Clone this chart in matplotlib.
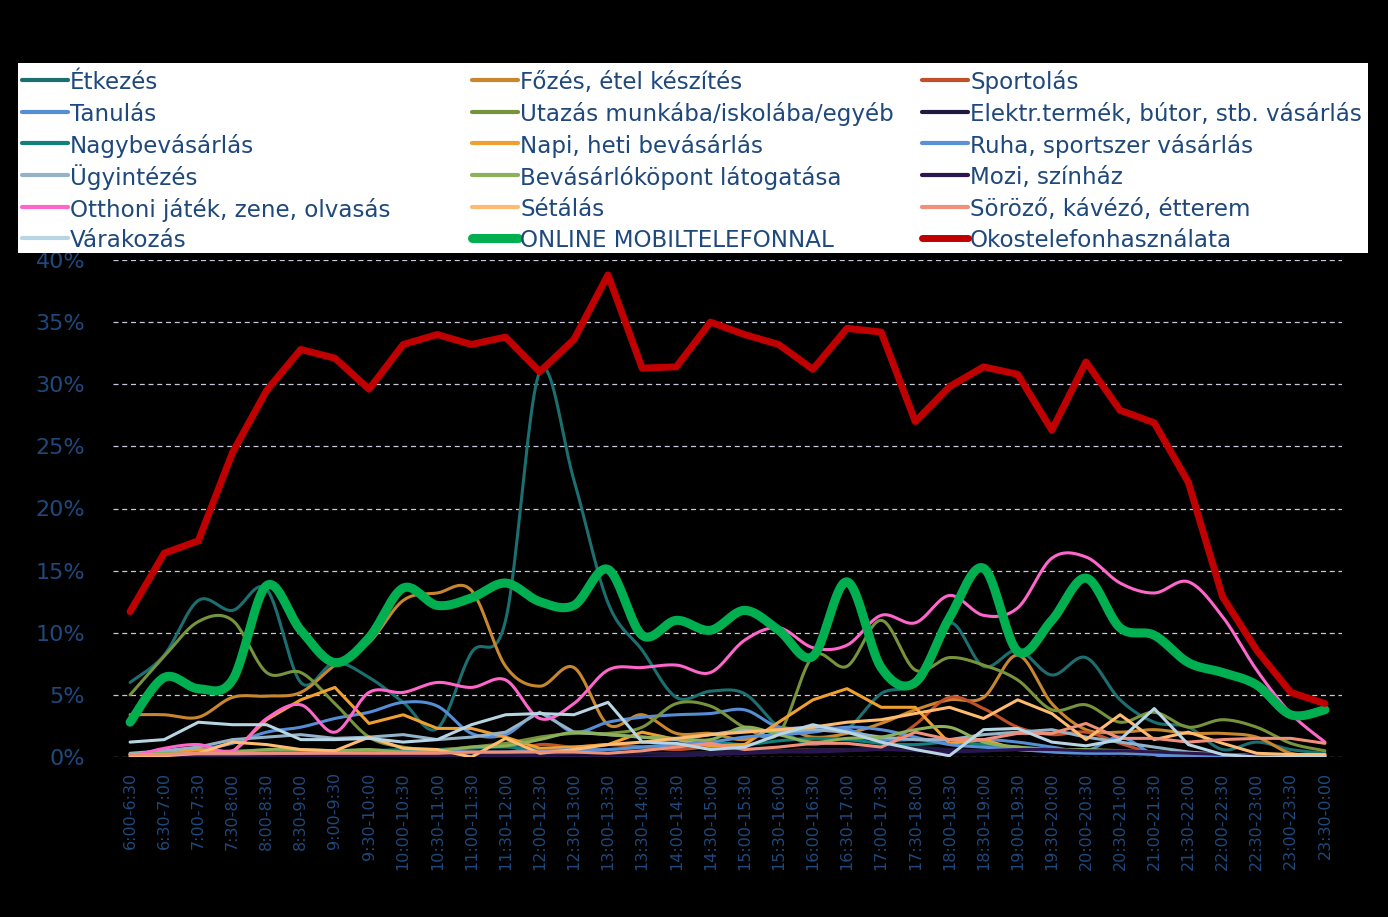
import numpy as np
import matplotlib
matplotlib.use("Agg")
from matplotlib import pyplot as plt
from matplotlib.lines import Line2D
from matplotlib.patches import Rectangle

slots = ["6:00-6:30", "6:30-7:00", "7:00-7:30", "7:30-8:00", "8:00-8:30", "8:30-9:00",
         "9:00-9:30", "9:30-10:00", "10:00-10:30", "10:30-11:00", "11:00-11:30", "11:30-12:00",
         "12:00-12:30", "12:30-13:00", "13:00-13:30", "13:30-14:00", "14:00-14:30", "14:30-15:00",
         "15:00-15:30", "15:30-16:00", "16:00-16:30", "16:30-17:00", "17:00-17:30", "17:30-18:00",
         "18:00-18:30", "18:30-19:00", "19:00-19:30", "19:30-20:00", "20:00-20:30", "20:30-21:00",
         "21:00-21:30", "21:30-22:00", "22:00-22:30", "22:30-23:00", "23:00-23:30", "23:30-0:00"]

# values in percent
etkezes = [6.0, 8.2, 12.6, 11.8, 13.5, 6.0, 7.6, 6.4, 4.4, 2.3, 8.4, 11.0, 31.0, 22.3, 12.4, 8.6, 4.8, 5.3,
           5.1, 2.4, 1.0, 2.2, 5.1, 6.0, 10.8, 7.3, 8.6, 6.6, 8.0, 4.6, 2.8, 2.4, 0.6, 1.2, 0.6, 0.3]
fozes = [3.4, 3.4, 3.2, 4.8, 4.9, 5.2, 7.4, 9.2, 12.6, 13.2, 13.4, 7.3, 5.7, 7.2, 2.6, 3.4, 1.9, 1.9,
         1.4, 2.4, 1.6, 1.9, 2.7, 3.8, 4.6, 4.8, 8.2, 4.3, 2.2, 2.0, 2.2, 1.9, 1.9, 1.6, 0.3, 0.2]
sportolas = [0.2, 0.3, 0.3, 0.2, 0.2, 0.3, 0.4, 0.3, 0.3, 0.3, 0.3, 0.3, 1.0, 0.8, 1.0, 0.8, 0.6, 0.8,
             0.6, 0.5, 0.6, 0.6, 0.8, 2.6, 4.8, 3.9, 2.4, 1.8, 2.0, 1.1, 0.3, 0.2, 0.2, 0.1, 0.1, 0.1]
tanulas = [0.2, 0.3, 0.6, 1.1, 2.0, 2.4, 3.1, 3.6, 4.4, 4.1, 1.9, 1.8, 3.5, 2.0, 2.8, 3.2, 3.4, 3.5,
           3.8, 2.4, 2.4, 2.2, 1.4, 1.4, 1.2, 1.4, 1.2, 0.8, 0.5, 1.6, 0.2, 0.0, 0.0, 0.0, 0.0, 0.0]
utazas = [5.0, 8.1, 10.9, 11.0, 6.8, 6.8, 4.3, 1.6, 0.8, 0.6, 0.8, 1.1, 1.6, 1.9, 1.9, 2.4, 4.3, 4.1,
          2.4, 1.9, 8.1, 7.3, 11.0, 7.0, 8.0, 7.4, 6.2, 3.8, 4.2, 2.8, 3.6, 2.4, 3.0, 2.4, 1.1, 0.5]
elektr = [0.0, 0.0, 0.0, 0.0, 0.0, 0.1, 0.1, 0.1, 0.1, 0.1, 0.2, 0.2, 0.2, 0.3, 0.3, 0.3, 0.3, 0.4,
          0.5, 0.5, 0.6, 0.6, 0.8, 0.8, 0.6, 0.5, 0.6, 0.6, 0.5, 0.5, 0.3, 0.2, 0.1, 0.0, 0.0, 0.0]
nagybev = [0.2, 0.3, 0.4, 0.5, 0.5, 0.4, 0.4, 0.5, 0.6, 0.6, 0.7, 0.8, 0.6, 0.5, 0.6, 0.8, 1.0, 1.2,
           1.0, 1.3, 1.5, 1.4, 1.1, 1.0, 1.2, 1.0, 0.8, 0.6, 0.5, 0.4, 0.3, 0.2, 0.1, 0.1, 0.0, 0.0]
napi = [0.2, 0.3, 0.6, 0.4, 3.0, 4.6, 5.6, 2.7, 3.4, 2.3, 2.3, 1.6, 0.7, 0.8, 1.0, 2.0, 1.4, 0.9,
        1.0, 2.8, 4.6, 5.5, 4.0, 4.0, 1.1, 1.4, 0.6, 0.5, 0.4, 0.4, 0.3, 0.2, 0.2, 0.1, 0.1, 0.1]
ruha = [0.1, 0.1, 0.2, 0.2, 0.3, 0.3, 0.4, 0.4, 0.4, 0.5, 0.4, 0.4, 0.5, 0.6, 0.6, 0.8, 1.0, 1.2,
        1.6, 1.8, 2.0, 2.4, 2.2, 1.6, 1.0, 0.8, 0.6, 0.4, 0.3, 0.3, 0.2, 0.1, 0.1, 0.0, 0.0, 0.0]
ugyintezes = [0.3, 0.5, 0.8, 1.4, 1.6, 1.8, 1.5, 1.6, 1.8, 1.4, 1.6, 2.0, 3.6, 2.0, 1.8, 1.6, 1.4, 1.8,
              2.2, 2.0, 2.2, 2.0, 1.6, 1.4, 1.4, 1.8, 2.0, 2.2, 1.6, 1.2, 0.8, 0.4, 0.2, 0.1, 0.1, 0.1]
bevkozpont = [0.2, 0.3, 0.3, 0.4, 0.6, 0.6, 0.5, 0.6, 0.4, 0.5, 0.8, 0.9, 1.4, 2.0, 1.8, 1.6, 1.5, 1.4,
              2.4, 1.8, 1.2, 1.5, 1.6, 2.2, 2.4, 1.2, 0.8, 0.6, 0.6, 0.5, 0.4, 0.3, 0.2, 0.1, 0.1, 0.1]
mozi = [0.0, 0.0, 0.0, 0.0, 0.0, 0.0, 0.0, 0.0, 0.0, 0.0, 0.0, 0.0, 0.0, 0.0, 0.0, 0.0, 0.1, 0.2,
        0.3, 0.4, 0.4, 0.5, 0.6, 0.5, 0.4, 0.5, 0.6, 0.6, 0.5, 0.5, 0.4, 0.3, 0.2, 0.1, 0.0, 0.0]
otthoni = [0.0, 0.7, 1.0, 0.5, 3.1, 4.2, 2.0, 5.2, 5.2, 6.0, 5.6, 6.2, 3.1, 4.3, 7.0, 7.2, 7.4, 6.8,
           9.4, 10.4, 8.8, 9.0, 11.4, 10.8, 13.0, 11.4, 12.0, 16.0, 16.1, 14.0, 13.2, 14.1, 11.3, 7.0, 3.5, 1.2]
setalas = [0.0, 0.1, 0.3, 1.2, 1.0, 0.6, 0.5, 1.6, 0.7, 0.6, 0.0, 1.5, 0.3, 0.6, 1.0, 1.2, 1.5, 1.8,
           2.0, 2.2, 2.4, 2.8, 3.0, 3.5, 4.0, 3.1, 4.6, 3.5, 1.4, 3.4, 1.4, 2.0, 1.1, 0.3, 0.2, 0.2]
sorozo = [0.2, 0.2, 0.3, 0.3, 0.3, 0.3, 0.3, 0.3, 0.3, 0.3, 0.4, 0.4, 0.4, 0.4, 0.3, 0.5, 0.8, 1.1,
          0.6, 0.8, 1.1, 1.1, 0.8, 2.0, 1.4, 1.4, 1.9, 1.9, 2.7, 1.5, 1.5, 1.2, 1.4, 1.5, 1.5, 1.1]
varakozas = [1.2, 1.4, 2.8, 2.6, 2.6, 1.4, 1.4, 1.5, 1.2, 1.4, 2.6, 3.4, 3.5, 3.4, 4.4, 1.2, 1.1, 0.6,
             0.8, 1.8, 2.6, 2.0, 1.2, 0.6, 0.1, 2.2, 2.3, 1.2, 0.9, 1.4, 3.9, 1.0, 0.2, 0.0, 0.0, 0.0]
online = [2.8, 6.4, 5.5, 6.2, 13.8, 10.2, 7.6, 9.6, 13.6, 12.2, 12.8, 14.0, 12.5, 12.2, 15.1, 9.8, 11.0, 10.2,
          11.8, 10.2, 8.1, 14.1, 7.2, 6.0, 11.2, 15.2, 8.5, 11.0, 14.4, 10.4, 9.8, 7.6, 6.8, 5.8, 3.4, 3.8]
okos = [11.7, 16.4, 17.4, 24.5, 29.5, 32.8, 32.1, 29.6, 33.2, 34.0, 33.2, 33.8, 31.0, 33.6, 38.8, 31.3, 31.4, 35.0,
        34.0, 33.2, 31.2, 34.5, 34.2, 27.0, 29.8, 31.4, 30.8, 26.3, 31.8, 27.9, 26.9, 22.1, 12.9, 8.6, 5.2, 4.3]

# (label, values, colour, width, smooth)
series = [
    ("Étkezés", etkezes, "#1C6F70", 2.2, True),
    ("Főzés, étel készítés", fozes, "#C8872E", 2.2, True),
    ("Sportolás", sportolas, "#C0502A", 2.2, True),
    ("Tanulás", tanulas, "#558ED5", 2.2, True),
    ("Utazás munkába/iskolába/egyéb", utazas, "#77933C", 2.2, True),
    ("Elektr.termék, bútor, stb. vásárlás", elektr, "#1F1A3F", 2.2, True),
    ("Nagybevásárlás", nagybev, "#12817C", 2.2, True),
    ("Napi, heti bevásárlás", napi, "#F0A030", 2.2, False),
    ("Ruha, sportszer vásárlás", ruha, "#5A90D8", 2.2, True),
    ("Ügyintézés", ugyintezes, "#95B3C8", 2.2, False),
    ("Bevásárlóköpont látogatása", bevkozpont, "#8DB05A", 2.2, True),
    ("Mozi, színház", mozi, "#2A1550", 2.2, True),
    ("Otthoni játék, zene, olvasás", otthoni, "#FF66CC", 2.2, True),
    ("Sétálás", setalas, "#FFBB70", 2.2, False),
    ("Söröző, kávézó, étterem", sorozo, "#F0907A", 2.2, False),
    ("Várakozás", varakozas, "#B8D5E3", 2.2, False),
    ("ONLINE MOBILTELEFONNAL", online, "#00B050", 6.5, True),
    ("Okostelefonhasználata", okos, "#C00000", 5.0, False),
]

text_col = "#1F497D"
W, H = 1388, 917


def smooth(xs, ys, n=24):
    # excel style smoothed line (cardinal bezier through the points)
    xs = np.asarray(xs, float)
    ys = np.asarray(ys, float)
    px = np.concatenate([[xs[0]], xs, [xs[-1]]])
    py = np.concatenate([[ys[0]], ys, [ys[-1]]])
    t = np.linspace(0, 1, n)[:, None]
    outx, outy = [], []
    for i in range(1, len(px) - 2):
        p0 = np.array([px[i], py[i]])
        p3 = np.array([px[i + 1], py[i + 1]])
        p1 = p0 + (np.array([px[i + 1], py[i + 1]]) - np.array([px[i - 1], py[i - 1]])) / 6
        p2 = p3 - (np.array([px[i + 2], py[i + 2]]) - np.array([px[i], py[i]])) / 6
        seg = (1 - t) ** 3 * p0 + 3 * (1 - t) ** 2 * t * p1 + 3 * (1 - t) * t ** 2 * p2 + t ** 3 * p3
        outx.append(seg[:, 0])
        outy.append(seg[:, 1])
    return np.concatenate(outx), np.concatenate(outy)


fig = plt.figure(figsize=(13.88, 9.17), dpi=100, facecolor="black")
ax = fig.add_axes([113 / W, 1 - 757 / H, 1229 / W, 497 / H])
ax.set_facecolor("black")

x = np.arange(len(slots))
for i, (name, vals, col, lw, sm) in enumerate(series):
    if sm:
        xx, yy = smooth(x, vals)
    else:
        xx, yy = x, np.asarray(vals, float)
    ax.plot(xx, yy, color=col, lw=lw, solid_capstyle="round", solid_joinstyle="round", zorder=2 + i * 0.01)

ax.set_xlim(-0.5, len(slots) - 0.5)
ax.set_ylim(0, 40)
ax.set_yticks(np.arange(0, 41, 5))
ax.set_yticklabels([f"{v}%" for v in range(0, 41, 5)])
ax.set_xticks(x)
ax.set_xticklabels(slots, rotation=90)
ax.tick_params(axis="y", length=0, pad=20, labelsize=16, labelcolor=text_col)
ax.tick_params(axis="x", length=0, pad=11, labelsize=11.5, labelcolor=text_col)
ax.yaxis.grid(True, color="#C8C8DC", ls=(0, (4, 3)), lw=0.9)
ax.set_axisbelow(True)
for s in ax.spines.values():
    s.set_visible(False)

# legend: white box, three columns filled row by row
fig.patches.append(Rectangle((18 / W, 1 - 253 / H), 1350 / W, 190 / H,
                             transform=fig.transFigure, facecolor="white", edgecolor="none", zorder=1))
col_x = [22, 472, 922]
row_y = [80, 112, 143, 175, 207, 238]
for i, (name, vals, col, lw, sm) in enumerate(series):
    cx = col_x[i % 3]
    ry = 1 - row_y[i // 3] / H
    fig.add_artist(Line2D([cx / W, (cx + 46) / W], [ry, ry], transform=fig.transFigure,
                          color=col, lw=max(lw, 3.0), solid_capstyle="round", zorder=3))
    fig.text((cx + 48) / W, ry, name, color=text_col, fontsize=16.6, va="center_baseline", ha="left", zorder=3)

fig.savefig("out.png", dpi=100, facecolor="black")
